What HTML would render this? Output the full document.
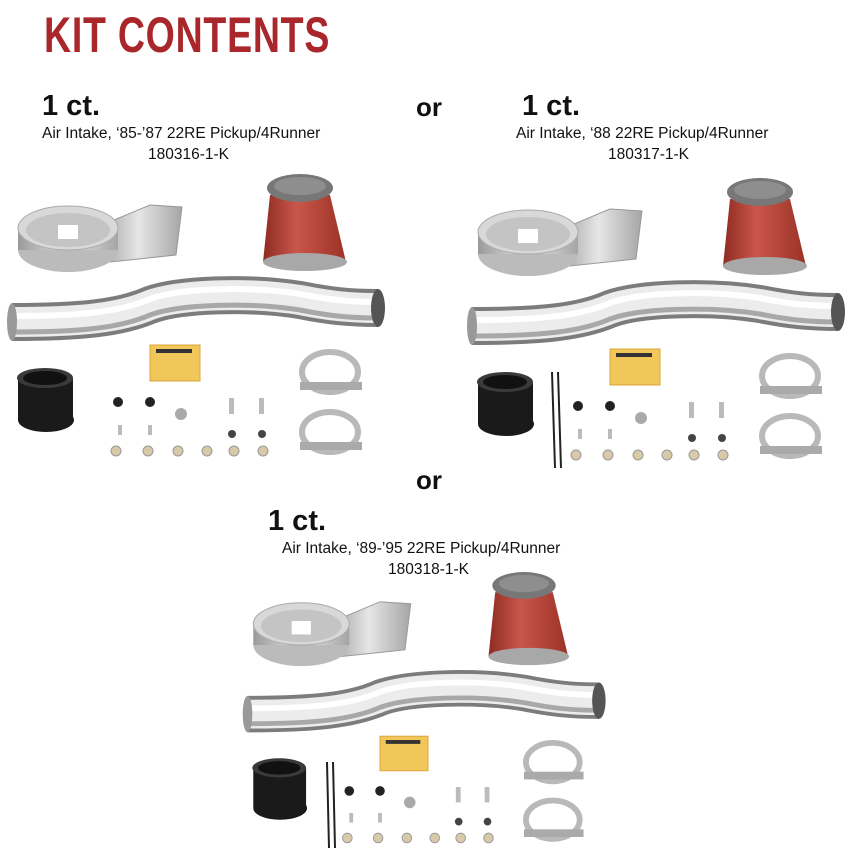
<!DOCTYPE html>
<html><head><meta charset="utf-8"><style>
html,body{margin:0;padding:0;background:#fff;}
body{width:864px;height:861px;position:relative;overflow:hidden;font-family:"Liberation Sans",sans-serif;color:#111;}
.t{position:absolute;white-space:nowrap;}
.title{left:44px;top:6px;font-family:"Liberation Sans",sans-serif;font-weight:900;font-size:50px;color:#a9262a;letter-spacing:1px;transform:scaleX(0.75);transform-origin:left top;}
.ct{font-weight:bold;font-size:29px;}
.d{font-size:15.5px;}
.or{font-weight:bold;font-size:26px;}
svg{position:absolute;left:0;top:0;}
</style></head><body>
<div class="t title">KIT CONTENTS</div>
<div class="t ct" style="left:42px;top:90px;">1 ct.</div>
<div class="t d" style="left:42px;top:125px;">Air Intake, ‘85-’87 22RE Pickup/4Runner</div>
<div class="t d" style="left:148px;top:146px;">180316-1-K</div>
<div class="t or" style="left:416px;top:92px;">or</div>
<div class="t ct" style="left:522px;top:90px;">1 ct.</div>
<div class="t d" style="left:516px;top:125px;">Air Intake, ‘88 22RE Pickup/4Runner</div>
<div class="t d" style="left:608px;top:146px;">180317-1-K</div>
<div class="t or" style="left:416px;top:465px;">or</div>
<div class="t ct" style="left:268px;top:505px;">1 ct.</div>
<div class="t d" style="left:282px;top:540px;">Air Intake, ‘89-’95 22RE Pickup/4Runner</div>
<div class="t d" style="left:388px;top:561px;">180318-1-K</div>
<svg width="864" height="861" viewBox="0 0 864 861">
<defs>
<linearGradient id="red" x1="0" y1="0" x2="1" y2="0">
<stop offset="0" stop-color="#8e2b22"/><stop offset="0.4" stop-color="#c9564a"/><stop offset="1" stop-color="#9b3226"/></linearGradient>
<linearGradient id="met" x1="0" y1="0" x2="1" y2="0">
<stop offset="0" stop-color="#9a9a9a"/><stop offset="0.5" stop-color="#e6e6e6"/><stop offset="1" stop-color="#a5a5a5"/></linearGradient>
<g id="kit">
<polygon points="95,228 150,205 182,207 176,255 110,262" fill="url(#met)" stroke="#999"/>
<ellipse cx="68" cy="250" rx="50" ry="22" fill="#bbb"/>
<rect x="18" y="228" width="100" height="22" fill="url(#met)"/>
<ellipse cx="68" cy="228" rx="50" ry="22" fill="#d8d8d8" stroke="#aaa"/>
<ellipse cx="68" cy="230" rx="42" ry="17" fill="#c4c4c4"/>
<rect x="58" y="225" width="20" height="14" fill="#fff"/>
<polygon points="270,195 330,195 346,262 263,262" fill="url(#red)"/>
<ellipse cx="305" cy="262" rx="42" ry="9" fill="#a8a8a8"/>
<ellipse cx="300" cy="188" rx="33" ry="14" fill="#777"/>
<ellipse cx="300" cy="186" rx="26" ry="9" fill="#8e8e8e"/>
<path d="M12,322 C80,322 120,318 150,305 C180,294 250,292 300,300 C330,306 350,308 378,308" fill="none" stroke="#7c7c7c" stroke-width="38"/>
<path d="M12,322 C80,322 120,318 150,305 C180,294 250,292 300,300 C330,306 350,308 378,308" fill="none" stroke="#ececec" stroke-width="30"/>
<path d="M12,316 C80,316 120,312 150,299 C180,288 250,286 300,294 C330,300 350,302 378,302" fill="none" stroke="#fff" stroke-width="6"/>
<path d="M12,332 C80,332 120,328 150,315 C180,304 250,302 300,310 C330,316 350,318 378,318" fill="none" stroke="#a8a8a8" stroke-width="5"/>
<ellipse cx="378" cy="308" rx="7" ry="19" fill="#555"/>
<ellipse cx="12" cy="322" rx="5" ry="19" fill="#999"/>
<rect x="18" y="378" width="55" height="42" fill="#1a1a1a"/>
<ellipse cx="46" cy="420" rx="28" ry="12" fill="#1a1a1a"/>
<ellipse cx="45" cy="378" rx="28" ry="10" fill="#3a3a3a"/>
<ellipse cx="45" cy="378" rx="22" ry="7" fill="#111"/>
<rect x="150" y="345" width="50" height="36" fill="#f2c75a" stroke="#d9a53a"/>
<rect x="156" y="349" width="36" height="4" fill="#333"/>
<ellipse cx="330" cy="372" rx="28" ry="20" fill="none" stroke="#b9b9b9" stroke-width="6"/>
<rect x="300" y="382" width="62" height="8" fill="#aaa"/>
<ellipse cx="330" cy="432" rx="28" ry="20" fill="none" stroke="#b9b9b9" stroke-width="6"/>
<rect x="300" y="442" width="62" height="8" fill="#aaa"/>
<g fill="#222"><circle cx="118" cy="402" r="5"/><circle cx="150" cy="402" r="5"/></g>
<circle cx="181" cy="414" r="6" fill="#aaa"/>
<g fill="#bbb"><rect x="229" y="398" width="5" height="16"/><rect x="259" y="398" width="5" height="16"/><rect x="118" y="425" width="4" height="10"/><rect x="148" y="425" width="4" height="10"/></g>
<g fill="#444"><circle cx="232" cy="434" r="4"/><circle cx="262" cy="434" r="4"/></g>
<g fill="#d8c9a8" stroke="#999"><circle cx="116" cy="451" r="5"/><circle cx="148" cy="451" r="5"/><circle cx="178" cy="451" r="5"/><circle cx="207" cy="451" r="5"/><circle cx="234" cy="451" r="5"/><circle cx="263" cy="451" r="5"/></g>
</g>
</defs>
<use href="#kit"/>
<use href="#kit" transform="translate(460,4)"/>
<line x1="552" y1="372" x2="555" y2="468" stroke="#222" stroke-width="2"/>
<line x1="558" y1="372" x2="561" y2="468" stroke="#222" stroke-width="2"/>
<use href="#kit" transform="translate(236,405) scale(0.96)"/>
<line x1="327" y1="762" x2="329" y2="848" stroke="#222" stroke-width="2"/>
<line x1="333" y1="762" x2="335" y2="848" stroke="#222" stroke-width="2"/>
</svg>
</body></html>
